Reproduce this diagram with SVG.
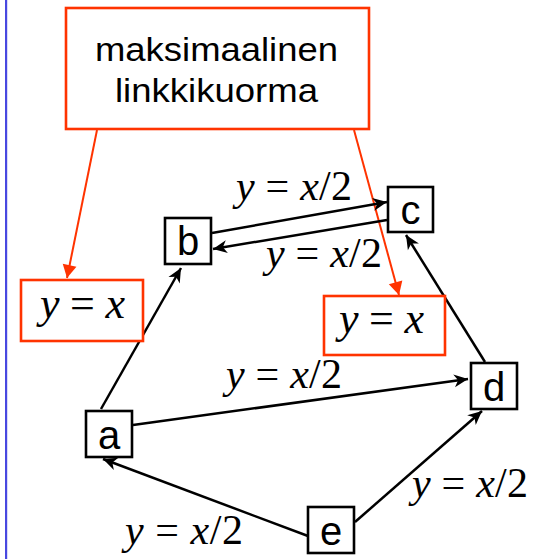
<svg xmlns="http://www.w3.org/2000/svg" width="544" height="559" viewBox="0 0 544 559">
<style>
.node rect{fill:#fff;stroke:#000;stroke-width:2.6}
.node text{font-family:"Liberation Sans",Arial,sans-serif;font-size:40px;fill:#000;text-anchor:middle}
.note rect{fill:#fff;stroke:#ff3300;stroke-width:2.6}
.note text{font-family:"Liberation Sans",Arial,sans-serif;font-size:33px;fill:#000}
.math{font-family:"Liberation Serif","Times New Roman",serif;font-size:42px;fill:#000}
.note text.math{font-family:"Liberation Serif","Times New Roman",serif;font-size:44px}
.i{font-style:italic}
.edge{stroke:#000;stroke-width:2.5;fill:none;marker-end:url(#ah)}
.redge{stroke:#ff3300;stroke-width:2;fill:none;marker-end:url(#rah)}
</style>
<defs>
<marker id="ah" markerUnits="userSpaceOnUse" markerWidth="16" markerHeight="14" refX="14" refY="7" orient="auto" overflow="visible">
<path d="M0,0.5 L14,7 L0,13.5 L4,7 z" fill="#000"/>
</marker>
<marker id="rah" markerUnits="userSpaceOnUse" markerWidth="14" markerHeight="14" refX="13" refY="7" orient="auto" overflow="visible">
<path d="M0,0 L13,7 L0,14 z" fill="#ff3300"/>
</marker>
</defs>
<rect x="5" y="0" width="2.2" height="559" fill="#4848e0"/>
<g id="connectors">
<line class="redge" x1="97" y1="130" x2="67" y2="278"/>
<line class="redge" x1="354" y1="130" x2="399" y2="295"/>
<line class="edge" x1="101" y1="409" x2="181" y2="268"/>
<line class="edge" x1="212" y1="233" x2="387" y2="202"/>
<line class="edge" x1="387" y1="220" x2="213" y2="249"/>
<line class="edge" x1="485" y1="362" x2="406" y2="235"/>
<line class="edge" x1="133" y1="425" x2="468" y2="379"/>
<line class="edge" x1="355" y1="522" x2="482" y2="411"/>
<line class="edge" x1="308" y1="536" x2="103" y2="459"/>
</g>
<g id="labels">
<text class="math" x="236" y="200" textLength="116"><tspan class="i">y</tspan> = <tspan class="i">x</tspan>/2</text>
<text class="math" x="266" y="267" textLength="116"><tspan class="i">y</tspan> = <tspan class="i">x</tspan>/2</text>
<text class="math" x="226" y="388" textLength="116"><tspan class="i">y</tspan> = <tspan class="i">x</tspan>/2</text>
<text class="math" x="412" y="497" textLength="116"><tspan class="i">y</tspan> = <tspan class="i">x</tspan>/2</text>
<text class="math" x="125" y="544" textLength="118"><tspan class="i">y</tspan> = <tspan class="i">x</tspan>/2</text>
</g>
<g id="note-max" class="note">
<rect x="66" y="8" width="303" height="121"/>
<text x="95" y="61" textLength="243" lengthAdjust="spacingAndGlyphs">maksimaalinen</text>
<text x="115" y="102" textLength="203" lengthAdjust="spacingAndGlyphs">linkkikuorma</text>
</g>
<g id="note-left" class="note">
<rect x="21" y="280" width="122" height="61"/>
<text class="math" x="40" y="318" textLength="85"><tspan class="i">y</tspan> = <tspan class="i">x</tspan></text>
</g>
<g id="note-right" class="note">
<rect x="324" y="296" width="121" height="59"/>
<text class="math" x="339" y="333" textLength="85"><tspan class="i">y</tspan> = <tspan class="i">x</tspan></text>
</g>
<g id="node-a" class="node"><rect x="86" y="411" width="46" height="46"/><text x="109" y="449">a</text></g>
<g id="node-b" class="node"><rect x="165" y="218" width="46" height="46"/><text x="188" y="255">b</text></g>
<g id="node-c" class="node"><rect x="388" y="187" width="45" height="45"/><text x="410.5" y="224">c</text></g>
<g id="node-d" class="node"><rect x="471" y="363" width="46" height="46"/><text x="494" y="401">d</text></g>
<g id="node-e" class="node"><rect x="308" y="507" width="46" height="46"/><text x="331" y="545">e</text></g>
</svg>
